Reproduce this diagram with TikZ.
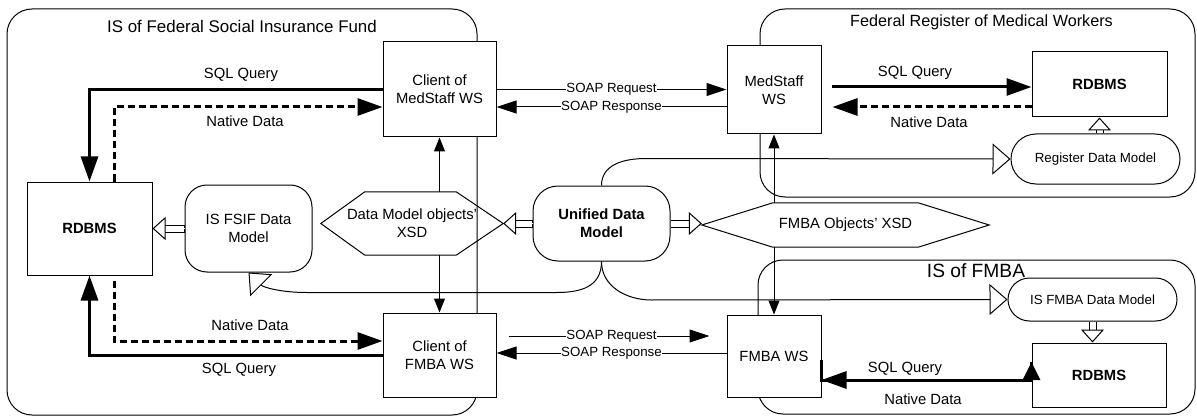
\documentclass[tikz,border=0pt]{standalone}
\usepackage{fontspec}
\setmainfont{Liberation Sans}
\usetikzlibrary{arrows.meta}

\begin{document}
\begin{tikzpicture}[
        x=1pt, y=-1pt,
        every node/.style={font=\fontsize{14.8}{18}\selectfont},
        box/.style={draw, fill=white, line width=1pt, align=center, inner sep=0pt},
        rbox/.style={box, rounded corners=22pt},
        bold/.style={font=\fontsize{14.8}{18}\selectfont\bfseries},
        smalltext/.style={font=\fontsize{13.3}{16}\selectfont},
        tag/.style={smalltext, fill=white, inner sep=0.5pt},
        area/.style={draw, line width=1pt, rounded corners=25pt},
        hexa/.style={align=center, inner sep=0pt},
        sql/.style={line width=3pt, -{Triangle[length=25pt,width=17pt]}},
        native/.style={sql, dash pattern=on 7pt off 4pt},
        soap/.style={line width=1pt, -{Triangle[length=20pt,width=13pt]}},
        feed/.style={line width=1pt, -{Triangle[length=14pt,width=11pt]}},
        fat/.style={draw=white, line width=1pt,
            -{Triangle[color=black,fill=white,length=13pt,width=23pt]},
            preaction={draw=black, line width=8pt, -, shorten >=12.5pt},
            preaction={draw=white, line width=6pt, -, shorten >=12pt, shorten <=0.6pt}},
        link/.style={line width=1pt, -{Triangle[fill=white,length=18pt,width=31pt]}}
    ]
    \useasboundingbox (0,0) rectangle (1197,417);

    % systems
    \draw[area] (7,9) rectangle (477,415);
    \draw[area] (760,9) rectangle (1195,197);
    \draw[area] (758,260) rectangle (1195,414);
    \node[font=\fontsize{16.9}{20}\selectfont] (fsiftitle) at (242,26) {IS of Federal Social Insurance Fund};
    \node[font=\fontsize{16.2}{20}\selectfont] (regtitle) at (981.5,22) {Federal Register of Medical Workers};
    \node[font=\fontsize{19.2}{22}\selectfont] (fmbatitle) at (976,271) {IS of FMBA};

    \node[box, bold, minimum width=125, minimum height=93] (rdbmsa) at (89.5,228.5) {RDBMS};
    \node[rbox, minimum width=127, minimum height=87] (fsifdm) at (248.5,228.5) {IS FSIF Data\\Model};
    \node[hexa, minimum width=182, minimum height=63] (dmxsd) at (412,223.5) {Data Model objects’\\XSD};
    \node[rbox, bold, rounded corners=25, minimum width=137, minimum height=75] (udm) at (601.5,223.5) {Unified Data\\Model};
    \node[hexa, minimum width=287, minimum height=44] (fmbaxsd) at (845.5,225) {FMBA Objects’ XSD};
    \node[box, minimum width=113, minimum height=95] (cms) at (439.5,89.5) {Client of\\MedStaff WS};
    \node[box, minimum width=113, minimum height=84] (cfmba) at (439.5,355) {Client of\\FMBA WS};
    \node[box, minimum width=94, minimum height=88] (msws) at (774,90) {MedStaff\\WS};
    \node[box, minimum width=94, minimum height=82] (fmbaws) at (774,356) {FMBA WS};
    \node[box, bold, minimum width=135, minimum height=65] (rdbmsb) at (1099.5,84.5) {RDBMS};
    \node[box, smalltext, rounded corners=25, minimum width=169, minimum height=50] (regdm) at (1095.5,159) {Register Data Model};
    \node[box, smalltext, rounded corners=21.5, minimum width=169, minimum height=43] (fmbadm) at (1092.5,299.5) {IS FMBA Data Model};
    \node[box, bold, minimum width=134, minimum height=64] (rdbmsc) at (1099,375) {RDBMS};

    % XSD outlines
    \draw[line width=1pt] (dmxsd.west) -- ([xshift=44]dmxsd.north west) -- ([xshift=-47]dmxsd.north east)
        -- (dmxsd.east) -- ([xshift=-47]dmxsd.south east) -- ([xshift=44]dmxsd.south west) -- cycle;
    \draw[line width=1pt] (fmbaxsd.west) -- ([xshift=71]fmbaxsd.north west) -- ([xshift=-71]fmbaxsd.north east)
        -- (fmbaxsd.east) -- ([xshift=-71]fmbaxsd.south east) -- ([xshift=71]fmbaxsd.south west) -- cycle;

    \draw[feed] (cms.south |- dmxsd.north) -- (cms.south);
    \draw[feed] (cfmba.north |- dmxsd.south) -- (cfmba.north);
    \draw[feed] (msws.south |- fmbaxsd.north) -- (msws.south);
    \draw[feed] (fmbaws.north |- fmbaxsd.south) -- (fmbaws.north);

    \draw[fat] (fsifdm.west) -- (rdbmsa.east);
    \draw[fat] (udm.west) -- (dmxsd.east);
    \draw[fat] (udm.east) -- (udm.east -| fmbaxsd.west);
    \draw[fat] (rdbmsb.south |- regdm.north) -- (rdbmsb.south);
    \draw[fat] (fmbadm.south) -- (fmbadm.south |- rdbmsc.north);

    % mappings from the unified model
    \draw[link] (udm.north) .. controls +(0,-20) and +(-25,0) .. ++(45,-27) -- (regdm.west);
    \draw[link] (udm.south) .. controls +(0,25) and +(-25,0) .. ++(50,38.5) -- (fmbadm.west);
    \draw[link] (udm.south) .. controls +(0,25) and +(25,0) .. ++(-45,31) -- ++(-250,0)
        .. controls +(-25,0) and +(15,15) .. (fsifdm.south);

    % database access
    \draw[native] ([xshift=24.5]rdbmsa.north) |- ([yshift=-17.5]cms.west);
    \draw[sql] (cms.west) -| (rdbmsa.north);
    \draw[native] ([xshift=24.5,yshift=-5]rdbmsa.south) |- ([yshift=14]cfmba.west);
    \draw[sql] (cfmba.west) -| (rdbmsa.south);
    \draw[sql, shorten <=10pt] ([yshift=3]msws.east) -- ([yshift=3]msws.east -| rdbmsb.west);
    \draw[native, shorten >=11pt] ([yshift=-22.5]rdbmsb.west) -- ([yshift=-22.5]rdbmsb.west -| msws.east);
    \draw[native] ([yshift=13]rdbmsc.west) |- ([yshift=-24]fmbaws.east);
    \draw[sql, -{Triangle[length=18pt,width=17pt]}] ([yshift=-4]fmbaws.east) -- ([yshift=-24]fmbaws.east)
        -| ([yshift=13]rdbmsc.west);

    \node (sqla) at (241,75) {SQL Query};
    \node (nata) at (245,121) {Native Data};
    \node (natb) at (250,325) {Native Data};
    \node (sqlb) at (239,370) {SQL Query};
    \node (sqlc) at (915,73) {SQL Query};
    \node (natc) at (929,122) {Native Data};
    \node (sqld) at (905,369) {SQL Query};
    \node (natd) at (923,399) {Native Data};

    % web services
    \draw[soap] (cms.east) -- (cms.east -| msws.west) node[midway, tag] (reqa) {SOAP Request};
    \draw[soap] ([yshift=-17]msws.west) -- ([yshift=-17]msws.west -| cms.east) node[midway, tag] (resa) {SOAP Response};
    \draw[soap, shorten <=12pt, shorten >=17pt] ([yshift=19]cfmba.east) -- ([yshift=19]cfmba.east -| fmbaws.west)
        node[midway, tag] (reqb) {SOAP Request};
    \draw[soap] ([yshift=3]fmbaws.west) -- ([yshift=3]fmbaws.west -| cfmba.east) node[midway, tag] (resb) {SOAP Response};
\end{tikzpicture}
\end{document}
